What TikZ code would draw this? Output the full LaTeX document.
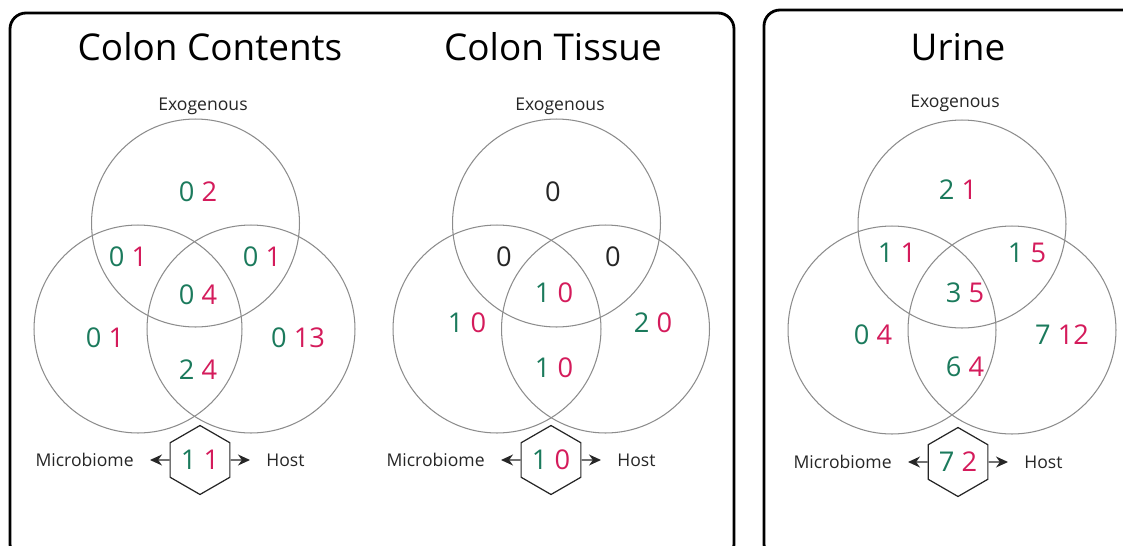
\documentclass[tikz,border=0pt]{standalone}
\usepackage{fontspec}
\setmainfont{Open Sans}
\usetikzlibrary{arrows.meta,positioning,shapes.geometric}
\definecolor{cntgreen}{HTML}{1B7A5C}
\definecolor{cntred}{HTML}{D41B5B}
\definecolor{vennline}{HTML}{8C8C8C}
\newcommand{\cntpair}[2]{\textcolor{cntgreen}{#1}\hspace{0.26em}\textcolor{cntred}{#2}}

\begin{document}
\begin{tikzpicture}[
  x=0.02cm, y=-0.02cm,
  every node/.style={font=\fontsize{10}{12}\selectfont, text=black!85},
  panel/.style={line width=1.6pt, rounded corners=0.32cm},
  venn/.style={draw=vennline, line width=0.6pt},
  title/.style={font=\fontsize{21}{25}\selectfont, text=black},
  cnt/.style={font=\fontsize{15.5}{18}\selectfont},
  hexnode/.style={regular polygon, regular polygon sides=6, shape border rotate=30,
    draw=black!85, line width=0.7pt, minimum size=1.38cm, inner sep=0pt},
  side/.style={inner sep=2pt},
  arr/.style={-{Stealth[length=2.4mm,width=2.2mm]}, draw=black!85, line width=0.7pt, shorten >=0.25cm},
]
\useasboundingbox (0,0) rectangle (1123,545);

% ---- Panels ----
\draw[panel] (10,13) rectangle (734,560);
\draw[panel] (764,10) rectangle (1150,560);

% ---- Colon Contents ----
\node[title] (ttlCC) at (210,47) {Colon Contents};
\node (exoCC) at (203,106) {Exogenous};
\draw[venn] (195.5,223) circle[radius=2.08cm];
\draw[venn] (138,329) circle[radius=2.08cm];
\draw[venn] (251,329) circle[radius=2.08cm];
\foreach \x/\y/\g/\r [count=\i] in {198/192/0/2, 128/257/0/1, 262/257/0/1, 198/295/0/4,
  105/338/0/1, 298/338/0/13, 198/370/2/4} {
  \node[cnt] (cc\i) at (\x,\y) {\cntpair{\g}{\r}};
}
\node[hexnode, cnt] (hexCC) at (200,460) {\cntpair{1}{1}};
\node[side, left=0.64cm of hexCC] (micCC) {Microbiome};
\node[side, right=0.64cm of hexCC] (hostCC) {Host};
\draw[arr] (hexCC) -- (micCC);
\draw[arr] (hexCC) -- (hostCC);

% ---- Colon Tissue ----
\node[title] (ttlCT) at (553,47) {Colon Tissue};
\node (exoCT) at (560,106) {Exogenous};
\draw[venn] (556.5,223) circle[radius=2.08cm];
\draw[venn] (497,329) circle[radius=2.08cm];
\draw[venn] (605.5,329) circle[radius=2.08cm];
\foreach \x/\y [count=\i] in {553/192, 504/257, 613/257} {
  \node[cnt] (ctz\i) at (\x,\y) {0};
}
\foreach \x/\y/\g/\r [count=\i] in {554/293/1/0, 467/323/1/0, 653/323/2/0, 554/368/1/0} {
  \node[cnt] (ct\i) at (\x,\y) {\cntpair{\g}{\r}};
}
\node[hexnode, cnt] (hexCT) at (551,460) {\cntpair{1}{0}};
\node[side, left=0.64cm of hexCT] (micCT) {Microbiome};
\node[side, right=0.64cm of hexCT] (hostCT) {Host};
\draw[arr] (hexCT) -- (micCT);
\draw[arr] (hexCT) -- (hostCT);

% ---- Urine ----
\node[title] (ttlUR) at (958,47) {Urine};
\node (exoUR) at (955,103) {Exogenous};
\draw[venn] (962,224) circle[radius=2.08cm];
\draw[venn] (892,330) circle[radius=2.08cm];
\draw[venn] (1012,330) circle[radius=2.08cm];
\foreach \x/\y/\g/\r [count=\i] in {958/190/2/1, 897/253/1/1, 1027/253/1/5, 965/293/3/5,
  873/335/0/4, 1062/335/7/12, 965/367/6/4} {
  \node[cnt] (ur\i) at (\x,\y) {\cntpair{\g}{\r}};
}
\node[hexnode, cnt] (hexUR) at (958,462) {\cntpair{7}{2}};
\node[side, left=0.64cm of hexUR] (micUR) {Microbiome};
\node[side, right=0.64cm of hexUR] (hostUR) {Host};
\draw[arr] (hexUR) -- (micUR);
\draw[arr] (hexUR) -- (hostUR);

\end{tikzpicture}
\end{document}
